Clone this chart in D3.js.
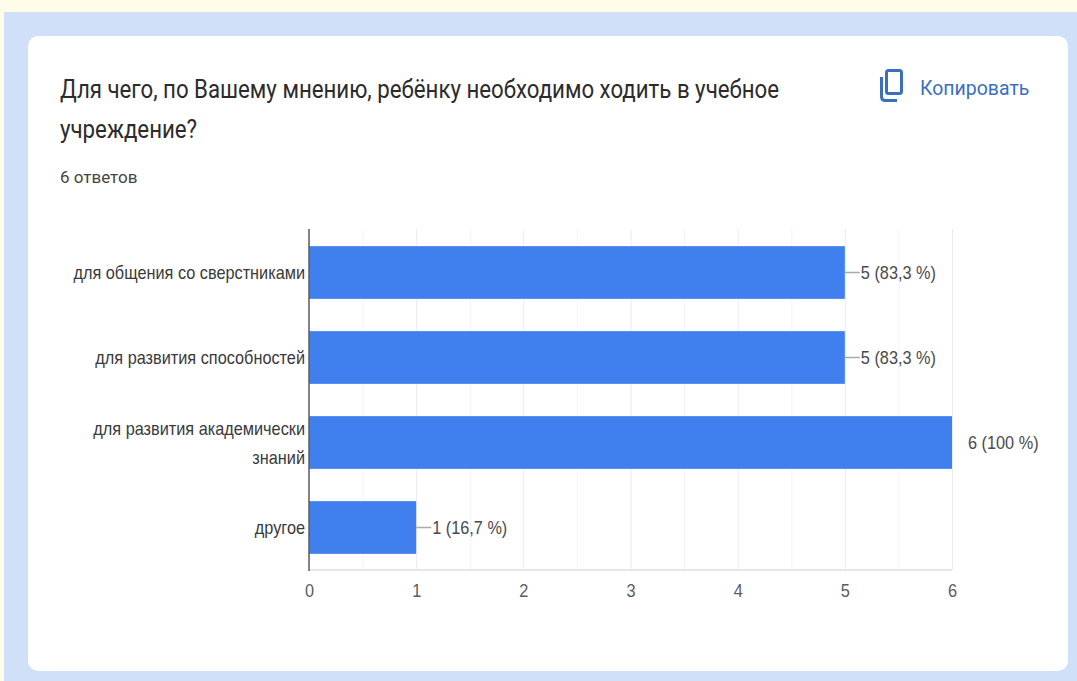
<!DOCTYPE html>
<html>
<head>
<meta charset="utf-8">
<script src="https://cdn.jsdelivr.net/npm/d3@7"></script>
<style>
  html, body { margin: 0; padding: 0; background: #fffde9; overflow: hidden; }
  svg { display: block; }
  .grid line { stroke: #ececec; }
  .minor line { stroke: #f4f4f4; }
  .grid path, .minor path { display: none; }
  .xaxis path, .xaxis line { display: none; }
  .xaxis text { font-family: "Liberation Sans", Arial, sans-serif; font-size: 18px; fill: #5c5c5c; }
</style>
</head>
<body>
<div id="chart"></div>
<script>
const categories = [
  ['для общения со сверстниками'],
  ['для развития способностей'],
  ['для развития академически', 'знаний'],
  ['другое']
];
const values = [5, 5, 6, 1];
const valueLabels = ['5 (83,3 %)', '5 (83,3 %)', '6 (100 %)', '1 (16,7 %)'];
const xTicks = [0, 1, 2, 3, 4, 5, 6];
const minorTicks = [0.5, 1.5, 2.5, 3.5, 4.5, 5.5];
const titleLines = ['Для чего, по Вашему мнению, ребёнку необходимо ходить в учебное', 'учреждение?'];
const subtitle = '6 ответов';
const copyLabel = 'Копировать';

const fullWidth = 1077, fullHeight = 681;
const margin = { top: 229, right: 125, bottom: 111, left: 309 };
const width = fullWidth - margin.left - margin.right;
const height = fullHeight - margin.top - margin.bottom;
const squeeze = 0.905; // the screenshot is stretched, text is narrower than it is tall

const root = d3.select('#chart').append('svg')
  .attr('width', fullWidth).attr('height', fullHeight);

// page background + card
root.append('rect').attr('x', 4).attr('y', 12).attr('width', fullWidth - 4).attr('height', fullHeight - 12).attr('fill', '#cfe0f8');
root.append('rect').attr('x', 28).attr('y', 36).attr('width', 1040).attr('height', 635).attr('rx', 10).attr('fill', '#ffffff');

// heading
const heading = root.append('g').attr('font-family', 'Roboto, sans-serif').attr('fill', '#2b2b2b');
heading.selectAll('text.title').data(titleLines).join('text')
  .attr('class', 'title')
  .attr('transform', (d, i) => `translate(60,${98 + i * 40}) scale(0.89,1)`)
  .attr('font-size', 25)
  .text(d => d);
heading.append('text').attr('x', 60).attr('y', 183).attr('font-size', 17).attr('fill', '#444').text(subtitle);

// copy icon
const icon = root.append('g').attr('fill', 'none').attr('stroke', '#3a6fc0').attr('stroke-width', 3);
icon.append('rect').attr('x', 886.5).attr('y', 70.5).attr('width', 15).attr('height', 23).attr('rx', 2);
icon.append('path').attr('d', 'M881.5 77V96.5Q881.5 100.5 885.5 100.5H897');
root.append('text').attr('transform', 'translate(920,95) scale(0.95,1)')
  .attr('font-family', 'Roboto, sans-serif').attr('font-size', 20.5)
  .attr('fill', '#3a6fc0').text(copyLabel);

const svg = root.append('g').attr('transform', `translate(${margin.left},${margin.top})`);

const xScale = d3.scaleLinear().domain([0, 6]).range([0, 643]);
const yScale = d3.scaleBand().domain(d3.range(values.length)).range([1, height]).paddingInner(0.38).paddingOuter(0.19);

// gridlines
svg.append('g').attr('class', 'minor')
  .call(d3.axisBottom(xScale).tickValues(minorTicks).tickSize(height).tickFormat(''));
svg.append('g').attr('class', 'grid')
  .call(d3.axisBottom(xScale).tickValues(xTicks).tickSize(height).tickFormat(''));
svg.append('line').attr('x1', 0).attr('x2', 643).attr('y1', height).attr('y2', height)
  .attr('stroke', '#e6e6e6').attr('stroke-width', 2);

// bars
svg.selectAll('rect.bar').data(values).join('rect')
  .attr('class', 'bar')
  .attr('x', 0)
  .attr('y', (d, i) => yScale(i))
  .attr('width', d => xScale(d))
  .attr('height', yScale.bandwidth())
  .attr('fill', '#3f7fee');

// zero line
svg.append('line').attr('x1', 0).attr('x2', 0).attr('y1', 0).attr('y2', height + 1)
  .attr('stroke', '#5c5c5c').attr('stroke-width', 1.5);

// x axis
svg.append('g').attr('class', 'xaxis')
  .attr('transform', `translate(0,${height})`)
  .call(d3.axisBottom(xScale).tickValues(xTicks).tickSize(0).tickPadding(14).tickFormat(d3.format('d')))
  .selectAll('text').attr('transform', `scale(${squeeze},1)`);

// category labels
const chartFont = '"Liberation Sans", Arial, sans-serif';
categories.forEach((lines, i) => {
  const cy = yScale(i) + yScale.bandwidth() / 2;
  svg.selectAll(null).data(lines).join('text')
    .attr('transform', (d, j) => `translate(-4,${cy + 6.5 + (j - (lines.length - 1) / 2) * 29}) scale(${squeeze},1)`)
    .attr('text-anchor', 'end')
    .attr('font-family', chartFont).attr('font-size', 18).attr('fill', '#3a3a3a')
    .text(d => d);
});

// leader lines and value labels
values.forEach((v, i) => {
  const cy = yScale(i) + yScale.bandwidth() / 2;
  const full = v === d3.max(values);
  if (!full) {
    svg.append('line').attr('x1', xScale(v)).attr('x2', xScale(v) + 15)
      .attr('y1', cy).attr('y2', cy).attr('stroke', '#aaa').attr('stroke-width', 1.5);
  }
  svg.append('text')
    .attr('transform', `translate(${xScale(v) + 16},${cy + 6.5}) scale(${squeeze},1)`)
    .attr('font-family', chartFont).attr('font-size', 18).attr('fill', '#4a4a4a')
    .text(valueLabels[i]);
});
</script>
</body>
</html>
